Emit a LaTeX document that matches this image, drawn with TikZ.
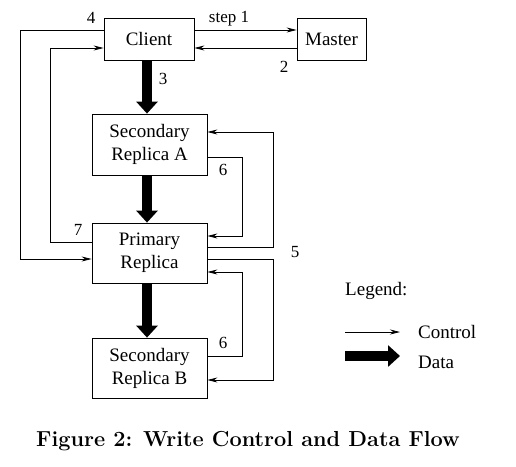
\documentclass[tikz,border=0pt]{standalone}
\usepackage{fontspec}
\usetikzlibrary{arrows.meta}
\newfontfamily\diagfont{Liberation Serif}

\tikzset{
  box/.style={draw, line width=0.8pt, rectangle, inner sep=0pt, align=center, font=\diagfont\fontsize{19}{23}\selectfont},
  ctrl/.style={line width=0.8pt, -{Stealth[length=10pt,width=5pt]}},
  data/.style={line width=10pt, -{Triangle[length=12pt,width=21pt]}},
  lbl/.style={inner sep=0pt, font=\diagfont\fontsize{17}{20}\selectfont}
}

\begin{document}
\begin{tikzpicture}[x=1pt,y=1pt,yscale=-1,xscale=1]
\useasboundingbox (0,0) rectangle (516,466);

% boxes
\node [box, minimum width=90pt, minimum height=42pt] (client) at (149,39) {Client};
\node [box, minimum width=69pt, minimum height=42pt] (master) at (331.5,39) {Master};
\node [box, minimum width=115pt, minimum height=61pt] (secA) at (149.5,144.5) {Secondary\\Replica A};
\node [box, minimum width=115pt, minimum height=60pt] (primary) at (149.5,253) {Primary\\Replica};
\node [box, minimum width=115pt, minimum height=60pt] (secB) at (149.5,368) {Secondary\\Replica B};

% data flow
\draw [data] (client.south -| 147,0) -- (secA.north -| 147,0);
\draw [data] (secA.south -| 147,0) -- (primary.north -| 147,0);
\draw [data] (primary.south -| 147,0) -- (secB.north -| 147,0);

% control flow
\draw [ctrl] (client.east |- 0,30) -- (master.west |- 0,30);
\draw [ctrl] (master.west |- 0,48) -- (client.east |- 0,48);
\draw [ctrl] (client.west |- 0,30) -- (20,30) -- (20,259) -- (primary.west |- 0,259);
\draw [ctrl] (primary.west |- 0,242) -- (50,242) -- (50,48) -- (client.west |- 0,48);
\draw [ctrl] (primary.east |- 0,247) -- (273,247) -- (273,132) -- (secA.east |- 0,132);
\draw [ctrl] (secA.east |- 0,157) -- (242,157) -- (242,236) -- (primary.east |- 0,236);
\draw [ctrl] (primary.east |- 0,259) -- (273,259) -- (273,380) -- (secB.east |- 0,380);
\draw [ctrl] (secB.east |- 0,356) -- (242,356) -- (242,272) -- (primary.east |- 0,272);

% step numbers
\node [lbl] (s1) at (229,19) {step 1};
\node [lbl] (s2) at (284,67) {2};
\node [lbl] (s3) at (163,79) {3};
\node [lbl] (s4) at (91,18) {4};
\node [lbl] (s5) at (295,252) {5};
\node [lbl] (s6a) at (223,170) {6};
\node [lbl] (s6b) at (223,343) {6};
\node [lbl] (s7) at (78,230) {7};

% legend
\node [lbl, anchor=west, font=\diagfont\fontsize{19}{23}\selectfont] (legend) at (345,291) {Legend:};
\coordinate (ctrlA) at (345,332);
\coordinate (ctrlB) at (400,332);
\coordinate (dataA) at (345,356);
\coordinate (dataB) at (400,356);
\draw [ctrl] (ctrlA) -- (ctrlB);
\draw [data] (dataA) -- (dataB);
\node [lbl, anchor=west, font=\diagfont\fontsize{19}{23}\selectfont] (ctrltext) at (418,332) {Control};
\node [lbl, anchor=west, font=\diagfont\fontsize{19}{23}\selectfont] (datatext) at (418,362) {Data};

% caption
\node [inner sep=0pt, font=\fontsize{21.7}{26}\bfseries\selectfont] (caption) at (248,441) {Figure 2: Write Control and Data Flow};
\end{tikzpicture}
\end{document}
